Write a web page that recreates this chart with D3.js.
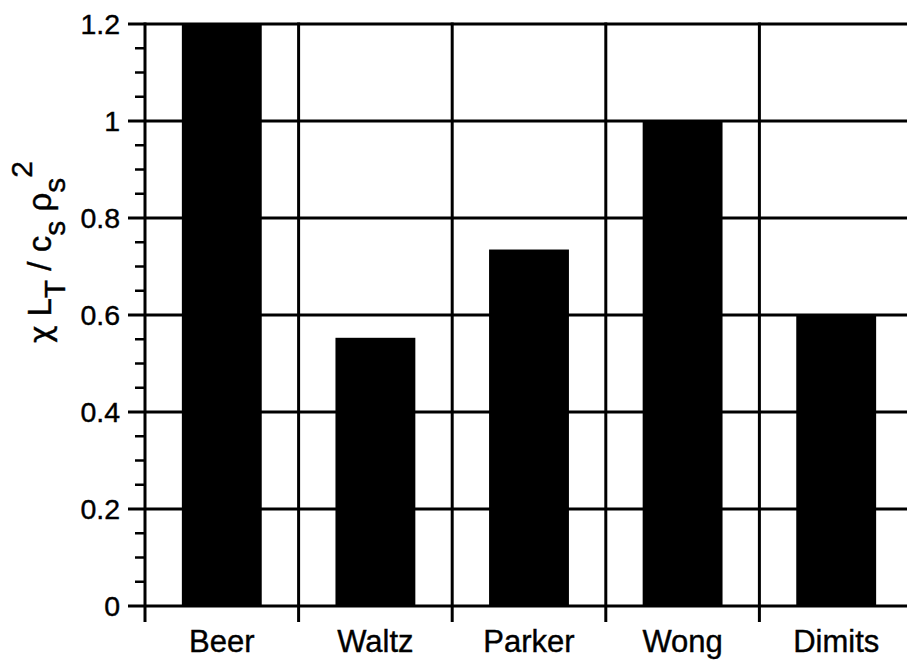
<!DOCTYPE html>
<html>
<head>
<meta charset="utf-8">
<script src="https://cdn.jsdelivr.net/npm/d3@7"></script>
<style>
  html, body { margin: 0; padding: 0; background: #fff; }
  svg { display: block; }
  text { font-family: "Liberation Sans", Arial, Helvetica, sans-serif; fill: #000; stroke: #000; stroke-width: 0.4px; }
</style>
</head>
<body>
<div id="chart"></div>
<script>
// ---- data ----
const categories = ["Beer", "Waltz", "Parker", "Wong", "Dimits"];
const values = [1.2, 0.553, 0.735, 1.0, 0.6];
const yTicks = [0, 0.2, 0.4, 0.6, 0.8, 1, 1.2];
const yTickLabels = ["0", "0.2", "0.4", "0.6", "0.8", "1", "1.2"];
const yMinorStep = 0.05;

// ---- layout ----
const W = 907, H = 664;
const plotLeft = 145, plotTop = 24, plotBottom = 606;
const bandStep = 153.6;
const barFrac = 0.52;

const svg = d3.select("#chart").append("svg")
  .attr("width", W).attr("height", H);

const x = d3.scaleBand().domain(categories)
  .range([plotLeft, plotLeft + bandStep * categories.length]).padding(0);
const y = d3.scaleLinear().domain([0, 1.2]).range([plotBottom, plotTop]);

const lw = 3;

// bars
svg.append("g").selectAll("rect").data(categories).join("rect")
  .attr("x", d => x(d) + x.bandwidth() * (1 - barFrac) / 2)
  .attr("width", x.bandwidth() * barFrac)
  .attr("y", (d, i) => y(values[i]))
  .attr("height", (d, i) => y(0) - y(values[i]))
  .attr("fill", "#000");

// horizontal gridlines (major ticks extend outside the axis)
svg.append("g").selectAll("line").data(yTicks).join("line")
  .attr("x1", plotLeft - 17).attr("x2", W + 10)
  .attr("y1", d => y(d)).attr("y2", d => y(d))
  .attr("stroke", "#000").attr("stroke-width", lw);

// minor ticks
const minor = d3.range(0, 1.2 + 1e-9, yMinorStep).filter(v => Math.abs(v / 0.2 - Math.round(v / 0.2)) > 1e-6);
svg.append("g").selectAll("line").data(minor).join("line")
  .attr("x1", plotLeft - 10).attr("x2", plotLeft)
  .attr("y1", d => y(d)).attr("y2", d => y(d))
  .attr("stroke", "#000").attr("stroke-width", 2.5);

// vertical separators (band boundaries), extending below axis as ticks
const bounds = categories.map(c => x(c));
svg.append("g").selectAll("line").data(bounds).join("line")
  .attr("x1", d => d).attr("x2", d => d)
  .attr("y1", plotTop - 1.5).attr("y2", plotBottom + 16)
  .attr("stroke", "#000").attr("stroke-width", lw);

// y tick labels
svg.append("g").selectAll("text").data(yTicks).join("text")
  .attr("x", 120).attr("y", d => y(d))
  .attr("dy", "0.36em")
  .attr("text-anchor", "end")
  .attr("font-size", 28.5)
  .text((d, i) => yTickLabels[i]);

// category labels
svg.append("g").selectAll("text").data(categories).join("text")
  .attr("x", d => x(d) + x.bandwidth() / 2)
  .attr("y", 652)
  .attr("text-anchor", "middle")
  .attr("font-size", 31)
  .text(d => d);

// y axis label: χ L_T / c_s ρ_s^2
const yl = svg.append("text")
  .attr("transform", "translate(51,343) rotate(-90)")
  .attr("font-size", 33)
  .attr("text-anchor", "start");
yl.append("tspan").attr("font-family", "DejaVu Sans").attr("font-size", 30).text("χ");
yl.append("tspan").text(" L");
yl.append("tspan").attr("dy", 14).attr("font-size", 30).text("T");
yl.append("tspan").attr("dy", -14).text(" / c");
yl.append("tspan").attr("dy", 14).attr("font-size", 30).text("s");
yl.append("tspan").attr("dy", -14).text(" ρ");
yl.append("tspan").attr("dy", 14).attr("font-size", 30).text("s");
yl.append("tspan").attr("dy", -33).attr("font-size", 30).text("2");
</script>
</body>
</html>
